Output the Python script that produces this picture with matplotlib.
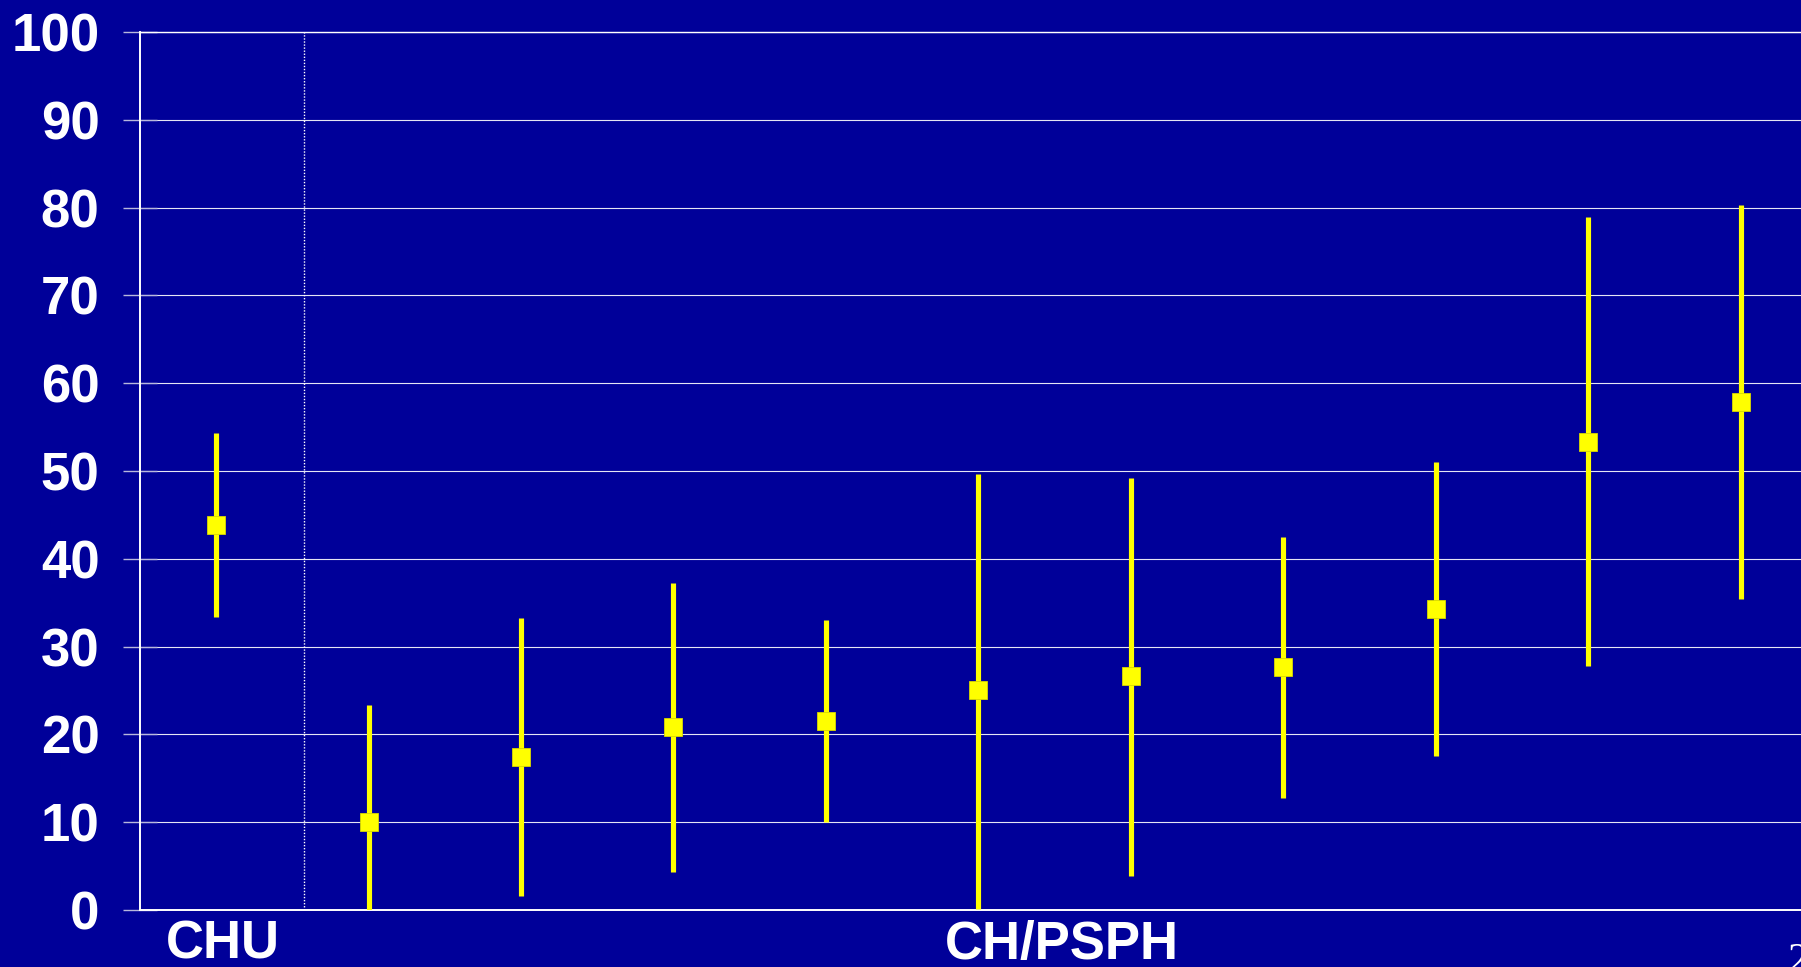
import matplotlib
matplotlib.use("Agg")
import matplotlib.pyplot as plt

# Hospital groups and their estimates with confidence intervals (%)
categories = ["CHU", "H1", "H2", "H3", "H4", "H5", "H6", "H7", "H8", "H9", "H10"]
estimates = [43.9, 10.0, 17.4, 20.8, 21.5, 25.0, 26.6, 27.7, 34.3, 53.3, 57.9]
ci_low = [33.4, 0.0, 1.6, 4.3, 10.0, 0.1, 3.9, 12.8, 17.5, 27.8, 35.4]
ci_high = [54.3, 23.4, 33.2, 37.2, 33.0, 49.7, 49.2, 42.5, 51.0, 78.9, 80.3]
group_labels = ["CHU", "CH/PSPH"]
y_ticks = [0, 10, 20, 30, 40, 50, 60, 70, 80, 90, 100]

BG = "#000099"
YELLOW = "#FFFF00"

plt.rcParams["font.family"] = ["Liberation Sans", "DejaVu Sans"]

fig = plt.figure(figsize=(18.01, 9.67), dpi=100, facecolor=BG)
ax = fig.add_axes([0.0776, 0.05895, 0.9314, 0.9080])
ax.set_facecolor(BG)

x = list(range(len(categories)))
lower_err = [e - lo for e, lo in zip(estimates, ci_low)]
upper_err = [hi - e for e, hi in zip(estimates, ci_high)]

ax.errorbar(x, estimates, yerr=[lower_err, upper_err], fmt="s",
            color=YELLOW, ecolor=YELLOW, elinewidth=3.7, capsize=0,
            markersize=12.5, markerfacecolor=YELLOW,
            markeredgecolor="#d8d800", markeredgewidth=0.6, zorder=3)

# Separator between university hospitals and other hospitals
ax.plot([0.575, 0.575], [0, 100], color="white", linestyle=(0, (1, 1.2)),
        linewidth=1.0, zorder=2)

ax.set_xlim(-0.5, 10.5)
ax.set_ylim(0, 100)

ax.set_yticks(y_ticks)
ax.set_yticklabels([str(v) for v in y_ticks], fontsize=38, fontweight="bold",
                   color="white")
ax.tick_params(axis="y", direction="inout", length=24, width=1.0,
               color="#b8b8dc", pad=17)

# Group labels under the axis: CHU under the first point, CH/PSPH centred on the rest
ax.set_xticks([0.045, 5.545])
ax.set_xticklabels(group_labels, fontsize=38, fontweight="bold", color="white")
ax.tick_params(axis="x", length=0, pad=7)

ax.grid(axis="y", color="white", linewidth=0.8, alpha=0.9, zorder=1)
ax.set_axisbelow(True)

ax.spines["right"].set_visible(False)
for side in ("left", "bottom", "top"):
    ax.spines[side].set_color("white")
    ax.spines[side].set_linewidth(1.4)
ax.spines["top"].set_linewidth(1.0)

# Slide number in the corner
fig.text(1787 / 1801, 1 - 942 / 967, "2", family=["Liberation Serif", "DejaVu Serif"],
         fontsize=30, color="white", ha="left", va="top")

fig.savefig("out.png", dpi=100, facecolor=BG)
